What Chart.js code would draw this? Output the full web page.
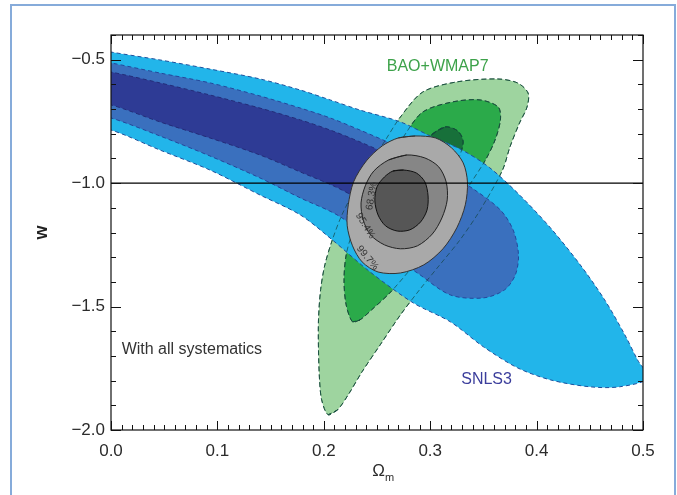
<!DOCTYPE html>
<html>
<head>
<meta charset="utf-8">
<script src="https://cdn.jsdelivr.net/npm/chart.js@4.4.0/dist/chart.umd.min.js"></script>
<style>
html,body{margin:0;padding:0;background:#fff;}
#wrap{position:relative;width:677px;height:495px;overflow:hidden;background:#fff;}
#frame{position:absolute;left:10px;top:4px;width:666px;height:540px;border:2px solid #86ABDA;box-sizing:border-box;}
canvas{position:absolute;left:0;top:0;}
</style>
</head>
<body>
<div id="wrap"><div id="frame"></div><canvas id="c" width="677" height="495"></canvas></div>
<script>
// ---- tick labels ----
const xTicks = [0.0, 0.1, 0.2, 0.3, 0.4, 0.5];
const yTicks = [-2.0, -1.5, -1.0, -0.5];

// ---- contours: [Omega_m, w] ----
// SNLS3 (blue): 99.7%, 95.4%, 68.3%
const snlsOuter = [[-0.03,-0.445],[0,-0.469],[0.046,-0.501],[0.093,-0.538],[0.140,-0.578],[0.178,-0.623],[0.206,-0.663],[0.234,-0.704],[0.272,-0.752],[0.300,-0.809],[0.330,-0.866],[0.356,-0.938],[0.384,-1.048],[0.413,-1.181],[0.441,-1.331],[0.464,-1.473],[0.483,-1.615],[0.495,-1.717],[0.505,-1.790],[0.478,-1.825],[0.450,-1.825],[0.413,-1.797],[0.382,-1.748],[0.350,-1.663],[0.319,-1.562],[0.284,-1.485],[0.243,-1.358],[0.208,-1.230],[0.178,-1.129],[0.140,-1.048],[0.093,-0.947],[0.046,-0.866],[0,-0.785],[-0.03,-0.765]];
const snlsMid = [[-0.03,-0.49],[0,-0.513],[0.046,-0.554],[0.093,-0.594],[0.140,-0.647],[0.178,-0.696],[0.206,-0.736],[0.234,-0.785],[0.272,-0.857],[0.309,-0.938],[0.342,-1.028],[0.366,-1.109],[0.378,-1.190],[0.383,-1.291],[0.380,-1.372],[0.370,-1.432],[0.350,-1.465],[0.319,-1.453],[0.288,-1.364],[0.253,-1.262],[0.215,-1.135],[0.178,-1.060],[0.140,-0.979],[0.093,-0.890],[0.046,-0.809],[0,-0.736],[-0.03,-0.71]];
const snlsInner = [[-0.03,-0.53],[0,-0.550],[0.046,-0.594],[0.093,-0.643],[0.140,-0.696],[0.178,-0.744],[0.206,-0.785],[0.234,-0.833],[0.272,-0.906],[0.300,-0.967],[0.320,-1.036],[0.325,-1.090],[0.318,-1.129],[0.300,-1.169],[0.272,-1.157],[0.243,-1.088],[0.211,-1.015],[0.178,-0.955],[0.140,-0.886],[0.093,-0.817],[0.046,-0.752],[0,-0.683],[-0.03,-0.66]];
// BAO+WMAP7 (green)
const baoOuter = [[0.204,-1.938],[0.198,-1.878],[0.196,-1.797],[0.195,-1.675],[0.195,-1.554],[0.197,-1.432],[0.201,-1.331],[0.208,-1.230],[0.217,-1.129],[0.229,-1.028],[0.243,-0.926],[0.258,-0.825],[0.272,-0.732],[0.293,-0.631],[0.325,-0.590],[0.363,-0.578],[0.382,-0.594],[0.392,-0.635],[0.391,-0.692],[0.384,-0.756],[0.375,-0.853],[0.368,-0.947],[0.347,-1.109],[0.328,-1.230],[0.309,-1.331],[0.290,-1.432],[0.272,-1.534],[0.253,-1.655],[0.236,-1.764],[0.223,-1.857],[0.213,-1.918]];
const baoMid = [[0.227,-1.562],[0.221,-1.493],[0.219,-1.392],[0.221,-1.291],[0.227,-1.198],[0.236,-1.100],[0.248,-1.007],[0.262,-0.906],[0.276,-0.805],[0.293,-0.712],[0.321,-0.671],[0.347,-0.663],[0.364,-0.692],[0.366,-0.744],[0.361,-0.825],[0.352,-0.906],[0.337,-1.007],[0.319,-1.129],[0.300,-1.250],[0.281,-1.351],[0.262,-1.445],[0.245,-1.513],[0.234,-1.554]];
const baoInner = [[0.314,-0.772],[0.326,-0.789],[0.331,-0.833],[0.326,-0.906],[0.314,-0.995],[0.295,-1.109],[0.276,-1.198],[0.262,-1.250],[0.253,-1.242],[0.253,-1.181],[0.262,-1.088],[0.276,-0.987],[0.290,-0.886],[0.301,-0.805]];
// Combined (grey)
const combOuter = [[0.286,-0.809],[0.305,-0.817],[0.320,-0.857],[0.331,-0.918],[0.335,-0.995],[0.333,-1.088],[0.325,-1.181],[0.312,-1.266],[0.294,-1.331],[0.272,-1.364],[0.251,-1.360],[0.236,-1.319],[0.227,-1.254],[0.222,-1.173],[0.223,-1.088],[0.228,-0.995],[0.240,-0.910],[0.255,-0.849],[0.270,-0.817]];
const combMid = [[0.278,-0.886],[0.295,-0.898],[0.308,-0.934],[0.315,-0.995],[0.316,-1.068],[0.311,-1.141],[0.302,-1.206],[0.288,-1.254],[0.272,-1.266],[0.257,-1.250],[0.244,-1.210],[0.237,-1.149],[0.235,-1.080],[0.239,-1.011],[0.247,-0.951],[0.261,-0.906]];
const combInner = [[0.275,-0.947],[0.287,-0.959],[0.295,-0.995],[0.298,-1.052],[0.297,-1.109],[0.291,-1.157],[0.281,-1.189],[0.269,-1.194],[0.258,-1.173],[0.251,-1.129],[0.248,-1.072],[0.250,-1.015],[0.257,-0.975],[0.265,-0.951]];
// reference line w = -1
const wLine = [[0, -1.0], [0.5, -1.0]];

const contourLabels = ['68.3%', '95.4%', '99.7%'];
const seriesNames = ['BAO+WMAP7', 'SNLS3', 'With all systematics'];

const FONT = "'Liberation Sans', Arial, Helvetica, sans-serif";

function loop(a) {
  const p = a.map(q => ({x: q[0], y: q[1]}));
  return [p[p.length - 1], ...p, p[0]];
}
function shape(arr, bg, border, dash, order, width) {
  return {data: loop(arr), fill: bg ? 'shape' : false, backgroundColor: bg || 'transparent',
    borderColor: border, borderWidth: width || 1, borderDash: dash, pointRadius: 0,
    tension: 0.3, order: order, clip: 0};
}

const datasets = [
  shape(baoOuter, '#9ED49F', '#2F6B3C', [5,3], 30),
  shape(baoMid, '#2BAA4A', '#1F5E30', [5,3], 29),
  shape(baoInner, '#17703A', '#114E28', [5,3], 28),
  shape(snlsOuter, '#22B5EA', '#1D4F9C', [4,3], 27),
  shape(snlsMid, '#3A70BE', '#24479A', [4,3], 26),
  shape(snlsInner, '#2E3B95', '#232C78', [4,3], 25),
  shape(baoOuter, null, 'rgba(20,70,70,0.7)', [5,3], 24),
  shape(baoMid, null, 'rgba(20,70,70,0.7)', [5,3], 23),
  shape(baoInner, null, 'rgba(20,70,70,0.7)', [5,3], 22),
  shape(combOuter, '#A9A9A9', '#333', [], 21),
  shape(combMid, '#868686', '#222', [], 20),
  shape(combInner, '#565656', '#111', [], 19),
  {data: wLine.map(q => ({x: q[0], y: q[1]})), fill: false, borderColor: '#000', borderWidth: 1.3,
   pointRadius: 0, tension: 0, order: 1, clip: 0}
];

const framePlugin = {
  id: 'frameTicks',
  afterDatasetsDraw(chart) {
    const {ctx, chartArea: a, scales: {x, y}} = chart;
    ctx.save();
    ctx.strokeStyle = '#111';
    ctx.lineWidth = 1.2;
    ctx.strokeRect(a.left, a.top, a.right - a.left, a.bottom - a.top);
    ctx.lineWidth = 1;
    ctx.beginPath();
    for (let i = 0; i <= 50; i++) {
      const px = Math.round(x.getPixelForValue(i / 100)) + 0.5;
      const L = i % 10 === 0 ? 9 : 5;
      ctx.moveTo(px, a.bottom); ctx.lineTo(px, a.bottom - L);
      ctx.moveTo(px, a.top); ctx.lineTo(px, a.top + L);
    }
    for (let i = 4; i <= 20; i++) {
      const py = Math.round(y.getPixelForValue(-i / 10)) + 0.5;
      const L = i % 5 === 0 ? 10 : 5;
      ctx.moveTo(a.left, py); ctx.lineTo(a.left + L, py);
      ctx.moveTo(a.right, py); ctx.lineTo(a.right - L, py);
    }
    ctx.stroke();
    ctx.restore();
  },
  afterDraw(chart) {
    const {ctx, chartArea: a, scales: {x, y}} = chart;
    const put = (t, vx, vy, font, color, align, rot) => {
      ctx.save();
      ctx.translate(x.getPixelForValue(vx), y.getPixelForValue(vy));
      ctx.rotate((rot || 0) * Math.PI / 180);
      ctx.font = font; ctx.fillStyle = color; ctx.textAlign = align; ctx.textBaseline = 'middle';
      ctx.fillText(t, 0, 0);
      ctx.restore();
    };
    put(seriesNames[0], 0.307, -0.526, `16px ${FONT}`, '#3DA24A', 'center');
    put(seriesNames[1], 0.353, -1.797, `16px ${FONT}`, '#3B3E9C', 'center');
    put(seriesNames[2], 0.010, -1.675, `16px ${FONT}`, '#333', 'left');
    put(contourLabels[0], 0.245, -1.052, `10px ${FONT}`, '#333', 'center', -80);
    put(contourLabels[1], 0.239, -1.173, `10px ${FONT}`, '#333', 'center', 58);
    put(contourLabels[2], 0.241, -1.303, `10px ${FONT}`, '#333', 'center', 50);
    // x axis title: Omega_m
    ctx.save();
    const cx = (a.left + a.right) / 2;
    ctx.fillStyle = '#2b2b2b';
    ctx.font = `17px ${FONT}`; ctx.textAlign = 'right'; ctx.textBaseline = 'alphabetic';
    ctx.fillText('Ω', cx + 8, 476);
    ctx.font = `11px ${FONT}`; ctx.textAlign = 'left';
    ctx.fillText('m', cx + 8, 481);
    ctx.restore();
  }
};

new Chart(document.getElementById('c'), {
  type: 'line',
  data: {datasets},
  options: {
    responsive: false,
    animation: false,
    events: [],
    layout: {padding: {top: 35, right: 34, left: 0, bottom: 0}},
    plugins: {legend: {display: false}, tooltip: {enabled: false}},
    scales: {
      x: {
        type: 'linear', min: 0, max: 0.5, position: 'bottom',
        afterBuildTicks: s => { s.ticks = xTicks.map(v => ({value: v})); },
        afterFit: s => { s.height = 65; },
        grid: {display: false, drawTicks: false},
        border: {display: false},
        ticks: {padding: 11, color: '#2b2b2b', font: {family: FONT, size: 17}, maxRotation: 0, autoSkip: false,
          callback: v => Number(v).toFixed(1)}
      },
      y: {
        type: 'linear', min: -2.0, max: -0.4,
        afterBuildTicks: s => { s.ticks = yTicks.map(v => ({value: v})); },
        afterFit: s => { s.width = 111; },
        grid: {display: false, drawTicks: false},
        border: {display: false},
        ticks: {padding: 6, color: '#2b2b2b', font: {family: FONT, size: 17}, autoSkip: false,
          callback: v => (v < 0 ? '\u2212' : '') + Math.abs(v).toFixed(1)},
        title: {display: true, text: 'w', color: '#222', font: {family: FONT, size: 18, weight: 'bold'},
          padding: {top: 31, bottom: 0}}
      }
    }
  },
  plugins: [framePlugin]
});
</script>
</body>
</html>
